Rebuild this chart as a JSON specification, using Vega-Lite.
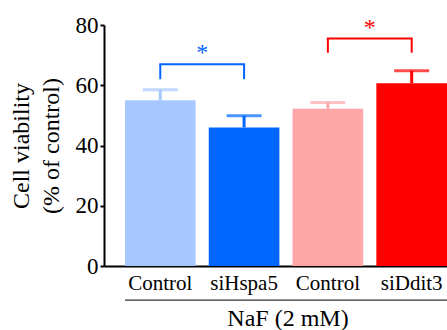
{
  "$schema": "https://vega.github.io/schema/vega-lite/v6.json",
  "width": 343,
  "height": 241,
  "autosize": "none",
  "padding": {"left": 104, "top": 25, "right": 0, "bottom": 64},
  "background": "white",
  "config": {
    "view": {"stroke": null},
    "font": "Liberation Serif",
    "axis": {"labelFont": "Liberation Serif", "titleFont": "Liberation Serif"},
    "text": {"font": "Liberation Serif"}
  },
  "datasets": {
    "bars": [
      {"grp": "a", "value": 55.0, "upper": 58.5},
      {"grp": "b", "value": 46.0, "upper": 49.9},
      {"grp": "c", "value": 52.2, "upper": 54.3},
      {"grp": "d", "value": 60.7, "upper": 64.8}
    ],
    "brackets": [
      {"from": "a", "to": "b", "top": 67.0, "star": 68.3},
      {"from": "c", "to": "d", "top": 75.5, "star": 76.6}
    ],
    "legs": [
      {"at": "a", "pair": "b", "foot": 62.0, "top": 67.0},
      {"at": "b", "pair": "b", "foot": 62.0, "top": 67.0},
      {"at": "c", "pair": "d", "foot": 70.8, "top": 75.5},
      {"at": "d", "pair": "d", "foot": 70.8, "top": 75.5}
    ],
    "span": [{"start": "a", "end": "d", "level": -11.3}]
  },
  "layer": [
    {
      "data": {"name": "bars"},
      "mark": {"type": "bar"},
      "encoding": {
        "x": {
          "field": "grp", "type": "nominal", "title": "NaF (2 mM)",
          "scale": {"domain": ["a", "b", "c", "d"], "paddingInner": 0.157, "paddingOuter": 0.125, "align": 1},
          "axis": {
            "labelAngle": 0,
            "labelExpr": "datum.value === 'a' ? 'Control' : datum.value === 'b' ? 'siHspa5' : datum.value === 'c' ? 'Control' : 'siDdit3'",
            "labelFontSize": 21, "labelColor": "black", "labelPadding": 23.5, "labelBaseline": "alphabetic",
            "ticks": false,
            "domainColor": "black", "domainWidth": 2,
            "titleFontSize": 24, "titleFontWeight": "normal", "titleColor": "black",
            "titleX": 183.5, "titleY": 59.5, "titleBaseline": "alphabetic"
          }
        },
        "y": {
          "field": "value", "type": "quantitative", "title": ["Cell viability", "(% of control)"],
          "scale": {"domain": [0, 80], "nice": false},
          "axis": {
            "values": [0, 10, 20, 30, 40, 50, 60, 70, 80],
            "labelExpr": "datum.value % 20 === 0 ? datum.label : ''",
            "grid": false,
            "labelFontSize": 23, "labelColor": "black", "labelPadding": 2,
            "tickSize": 4, "tickWidth": 2, "tickColor": "black",
            "domainColor": "black", "domainWidth": 2,
            "titleFontSize": 24, "titleFontWeight": "normal", "titleColor": "black",
            "titleLineHeight": 30, "titleBaseline": "alphabetic", "titleX": -75.5
          }
        },
        "color": {
          "field": "grp", "type": "nominal",
          "scale": {"domain": ["a", "b", "c", "d"], "range": ["#a6c8ff", "#0066ff", "#ffa6a6", "#ff0000"]},
          "legend": null
        }
      }
    },
    {
      "data": {"name": "bars"},
      "mark": {"type": "rule", "strokeWidth": 3},
      "encoding": {
        "x": {"field": "grp", "type": "nominal", "title": "NaF (2 mM)"},
        "y": {"field": "value", "type": "quantitative", "title": ["Cell viability", "(% of control)"]},
        "y2": {"field": "upper"},
        "color": {"field": "grp", "type": "nominal", "legend": null}
      }
    },
    {
      "data": {"name": "bars"},
      "mark": {"type": "tick", "size": 35, "thickness": 3},
      "encoding": {
        "x": {"field": "grp", "type": "nominal", "title": "NaF (2 mM)"},
        "y": {"field": "upper", "type": "quantitative", "title": ["Cell viability", "(% of control)"]},
        "color": {"field": "grp", "type": "nominal", "legend": null}
      }
    },
    {
      "data": {"name": "brackets"},
      "mark": {"type": "rule", "strokeWidth": 2, "strokeCap": "square"},
      "encoding": {
        "x": {"field": "from", "type": "nominal", "title": "NaF (2 mM)"},
        "x2": {"field": "to"},
        "y": {"field": "top", "type": "quantitative", "title": ["Cell viability", "(% of control)"]},
        "color": {"field": "to", "type": "nominal", "legend": null}
      }
    },
    {
      "data": {"name": "legs"},
      "mark": {"type": "rule", "strokeWidth": 2},
      "encoding": {
        "x": {"field": "at", "type": "nominal", "title": "NaF (2 mM)"},
        "y": {"field": "foot", "type": "quantitative", "title": ["Cell viability", "(% of control)"]},
        "y2": {"field": "top"},
        "color": {"field": "pair", "type": "nominal", "legend": null}
      }
    },
    {
      "data": {"name": "brackets"},
      "mark": {"type": "text", "text": "*", "fontSize": 24, "baseline": "alphabetic", "align": "center"},
      "encoding": {
        "x": {"field": "to", "type": "nominal", "bandPosition": -0.093, "title": "NaF (2 mM)"},
        "y": {"field": "star", "type": "quantitative", "title": ["Cell viability", "(% of control)"]},
        "color": {"field": "to", "type": "nominal", "legend": null}
      }
    },
    {
      "data": {"name": "span"},
      "mark": {"type": "rule", "strokeWidth": 1.3, "color": "#333333"},
      "encoding": {
        "x": {"field": "start", "type": "nominal", "bandPosition": 0, "title": "NaF (2 mM)"},
        "x2": {"field": "end", "bandPosition": 1},
        "y": {"field": "level", "type": "quantitative", "title": ["Cell viability", "(% of control)"]}
      }
    }
  ]
}
